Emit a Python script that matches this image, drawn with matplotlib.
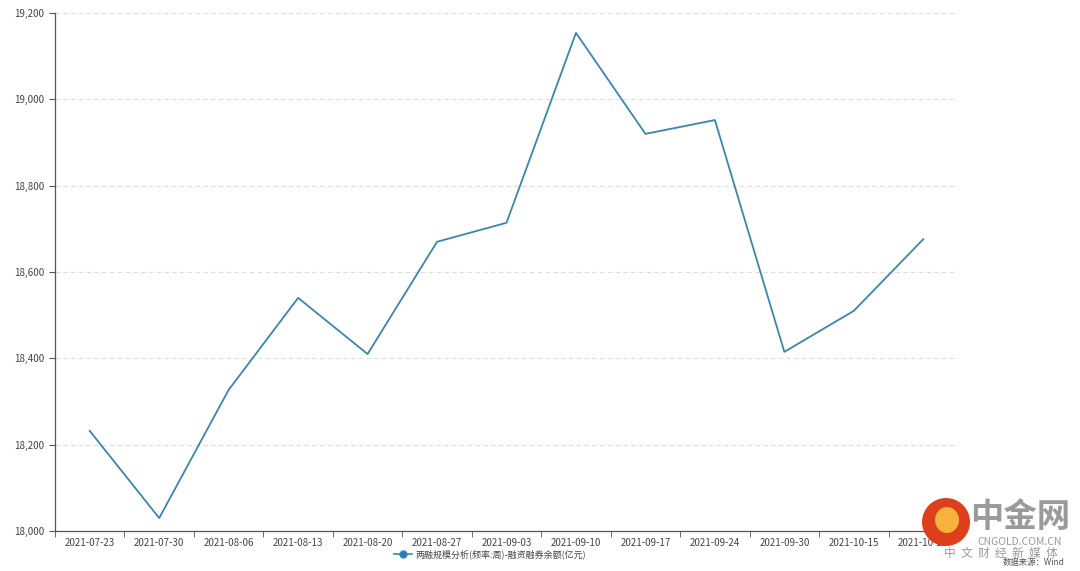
import numpy as np
import matplotlib.pyplot as plt
from matplotlib.patches import Ellipse

plt.rcParams['font.family'] = ['Noto Sans CJK SC', 'DejaVu Sans']

dates = ['2021-07-23', '2021-07-30', '2021-08-06', '2021-08-13', '2021-08-20',
         '2021-08-27', '2021-09-03', '2021-09-10', '2021-09-17', '2021-09-24',
         '2021-09-30', '2021-10-15', '2021-10-22']
balance = [18232, 18030, 18327, 18540, 18410, 18670, 18714,
           19154, 18920, 18952, 18415, 18510, 18676]
series_name = '两融规模分析(频率:周)-融资融券余额(亿元)'

fig = plt.figure(figsize=(10.8, 5.71), dpi=100)
ax = fig.add_axes([55/1080, 40/571, 903/1080, 518/571])

x = np.arange(len(dates))
ax.plot(x, balance, color='#3a87ad', lw=1.3, label=series_name)

ax.set_xlim(-0.5, len(dates) - 0.5)
ax.set_ylim(18000, 19200)
ax.set_yticks(np.arange(18000, 19201, 200))
ax.set_yticklabels([f'{v:,}' for v in range(18000, 19201, 200)])
ax.set_xticks(x)
ax.set_xticklabels(dates)
ax.set_xticks(np.arange(-0.5, len(dates)), minor=True)
ax.tick_params(axis='x', which='major', length=0, labelsize=7, colors='#444444', pad=5)
ax.tick_params(axis='x', which='minor', length=4, color='#555555', direction='out')
ax.tick_params(axis='y', length=4, labelsize=7, colors='#555555', labelcolor='#444444')

ax.grid(axis='y', ls=(0, (4, 3)), color='#dddddd', lw=0.8)
for s in ['top', 'right']:
    ax.spines[s].set_visible(False)
for s in ['left', 'bottom']:
    ax.spines[s].set_color('#555555')
    ax.spines[s].set_linewidth(0.9)

# legend
fig.legend(handles=[plt.Line2D([], [], color='#3a87ad', lw=1.2, marker='o',
                               markersize=5, markerfacecolor='#2f78b0')],
           labels=[series_name], loc='center', bbox_to_anchor=(490/1080, 1 - 554/571),
           frameon=False, fontsize=6.5, handlelength=2.0, handletextpad=0.3,
           labelcolor='#444444')

# watermark
fig.patches.append(Ellipse((946/1080, 1 - 522/571), 48/1080, 48/571, transform=fig.transFigure,
                           facecolor='#dd3f1c', edgecolor='none', zorder=5))
fig.patches.append(Ellipse((947/1080, 1 - 520/571), 24/1080, 26/571, transform=fig.transFigure,
                           facecolor='#f6b23a', edgecolor='none', zorder=6))
fig.text(1020/1080, 1 - 517/571, '中金网', fontsize=24, color='#9a9a9a', ha='center',
         va='center', fontweight='bold')
fig.text(1020/1080, 1 - 542/571, 'CNGOLD.COM.CN', fontsize=7.5, color='#9a9a9a', ha='center', va='center')
fig.text(1001/1080, 1 - 553/571, '中  文  财  经  新  媒  体', fontsize=8.5, color='#9a9a9a', ha='center', va='center')
fig.text(1065/1080, 1 - 563/571, '数据来源：Wind', fontsize=6, color='#555555', ha='right', va='center')

fig.savefig('out.png', dpi=100)
